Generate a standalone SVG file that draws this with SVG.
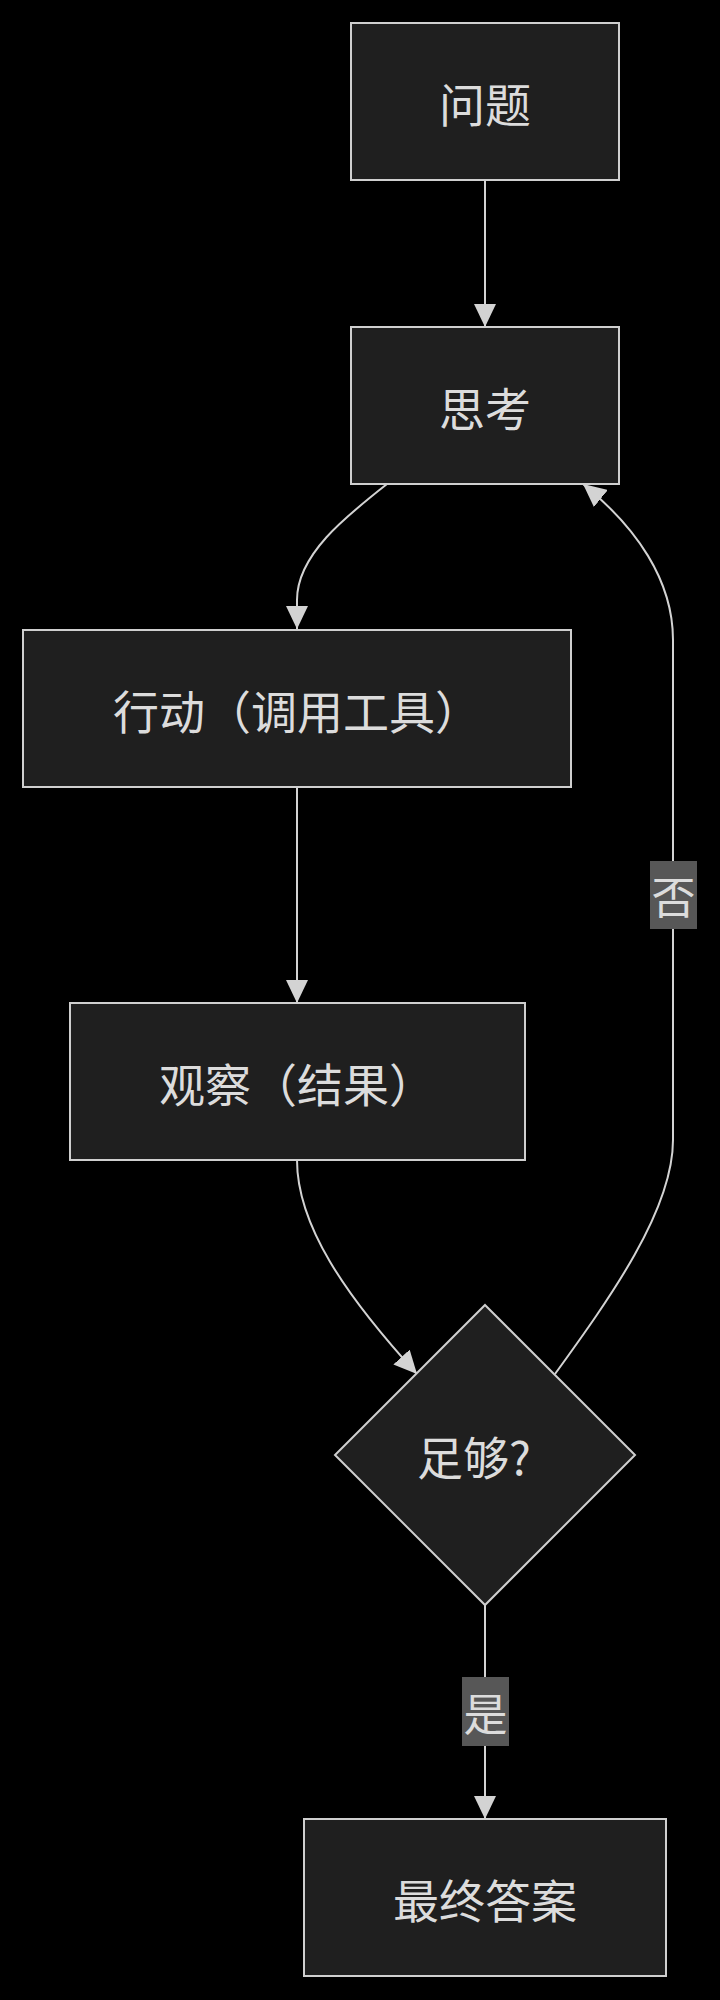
<svg xmlns="http://www.w3.org/2000/svg" width="720" height="2000" viewBox="0 0 720 2000">
<style>
.node{fill:#1f1f1f;stroke:#cfcfcf;stroke-width:2}
.lbl{font-family:"Noto Sans CJK SC","Noto Sans",sans-serif;font-size:46px;fill:#dcdcdc;text-anchor:middle;dominant-baseline:central}
.elbl{font-family:"Noto Sans CJK SC","Noto Sans",sans-serif;font-size:44px;fill:#dcdcdc;text-anchor:middle;dominant-baseline:central}
.edge{fill:none;stroke:#d3d3d3;stroke-width:2}
.lblbg{fill:#575757}
</style>
<defs>
<marker id="arrow" viewBox="0 0 23 22" refX="23" refY="11" markerWidth="23" markerHeight="22" markerUnits="userSpaceOnUse" orient="auto">
<path d="M0,0 L23,11 L0,22 z" fill="#d3d3d3"/>
</marker>
</defs>
<rect width="720" height="2000" fill="#000"/>
<g id="edges">
<path class="edge" d="M485,180 L485,327" marker-end="url(#arrow)"/>
<path class="edge" d="M387,484 C345,517 297,555 297,600 L297,629" marker-end="url(#arrow)"/>
<path class="edge" d="M297,787 L297,1003" marker-end="url(#arrow)"/>
<path class="edge" d="M297,1160 C297,1225 345,1295 417,1374" marker-end="url(#arrow)"/>
<path class="edge" d="M555,1374 C610,1298 673,1210 673,1140 L673,640 C673,580 636,527 583,484" marker-end="url(#arrow)"/>
<path class="edge" d="M485,1605 L485,1819" marker-end="url(#arrow)"/>
<g id="label-no">
<rect class="lblbg" x="650" y="861" width="47" height="68"/>
<text class="elbl" x="673.5" y="895">否</text>
</g>
<g id="label-yes">
<rect class="lblbg" x="462" y="1677" width="47" height="69"/>
<text class="elbl" x="485.5" y="1711.5">是</text>
</g>
</g>
<g id="question">
<rect class="node" x="351" y="23" width="268" height="157"/>
<text class="lbl" x="485" y="102">问题</text>
</g>
<g id="think">
<rect class="node" x="351" y="327" width="268" height="157"/>
<text class="lbl" x="485" y="406">思考</text>
</g>
<g id="action">
<rect class="node" x="23" y="630" width="548" height="157"/>
<text class="lbl" x="297" y="709">行动（调用工具）</text>
</g>
<g id="observe">
<rect class="node" x="70" y="1003" width="455" height="157"/>
<text class="lbl" x="297" y="1082">观察（结果）</text>
</g>
<g id="enough">
<polygon class="node" points="485,1305 635,1455 485,1605 335,1455"/>
<text class="lbl" x="474" y="1455">足够?</text>
</g>
<g id="final">
<rect class="node" x="304" y="1819" width="362" height="157"/>
<text class="lbl" x="485" y="1898">最终答案</text>
</g>
</svg>
